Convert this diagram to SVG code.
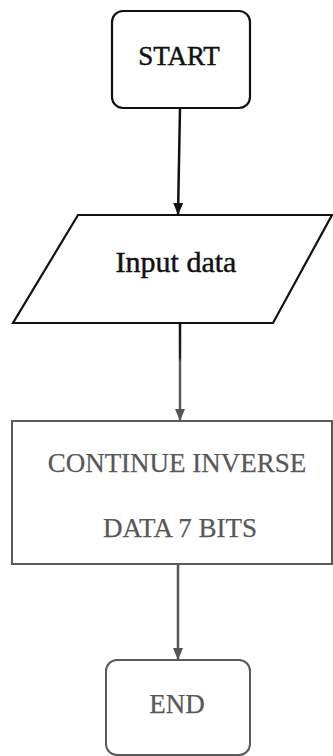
<svg xmlns="http://www.w3.org/2000/svg" width="333" height="756" viewBox="0 0 333 756">
  <style>
    .txt { font-family: "Liberation Serif", "Times New Roman", serif; font-size: 27px; text-anchor: middle; }
    .dark { fill: #111; stroke: #111; stroke-width: 0.45; }
    .grey { fill: #585858; stroke: #585858; stroke-width: 0.25; }
    .big { font-size: 30px; }
    .shape-dark { fill: #fff; stroke: #111; stroke-width: 2.2; }
    .shape-grey { fill: #fff; stroke: #5a5a5a; stroke-width: 2; }
    .conn { fill: none; stroke-width: 2.5; }
  </style>
  <defs>
    <marker id="head-dark" viewBox="0 0 12 10" refX="12" refY="5" markerWidth="12" markerHeight="10" markerUnits="userSpaceOnUse" orient="auto">
      <path d="M0,0 L12,5 L0,10 Z" fill="#111"/>
    </marker>
    <marker id="head-grey" viewBox="0 0 12 10" refX="12" refY="5" markerWidth="12" markerHeight="10" markerUnits="userSpaceOnUse" orient="auto">
      <path d="M0,0 L12,5 L0,10 Z" fill="#555"/>
    </marker>
    <linearGradient id="fade" gradientUnits="userSpaceOnUse" x1="0" y1="323" x2="0" y2="421">
      <stop offset="0" stop-color="#111"/>
      <stop offset="0.35" stop-color="#222"/>
      <stop offset="0.4" stop-color="#5a5a5a"/>
      <stop offset="1" stop-color="#5a5a5a"/>
    </linearGradient>
  </defs>

  <!-- connectors -->
  <g id="connectors">
    <path class="conn" d="M180,108 L178,215" stroke="#111" marker-end="url(#head-dark)"/>
    <path class="conn" d="M180,323 L180,421" stroke="url(#fade)" marker-end="url(#head-grey)"/>
    <path class="conn" d="M178,564 L178,660" stroke="#555" marker-end="url(#head-grey)"/>
  </g>

  <!-- start terminal -->
  <g id="start">
    <rect class="shape-dark" x="112" y="11" width="138" height="97" rx="11"/>
    <text class="txt dark" x="179" y="65">START</text>
  </g>

  <!-- input parallelogram -->
  <g id="input">
    <polygon class="shape-dark" points="78,215 332,215 273,323 13,323" stroke-width="2.5"/>
    <text class="txt big dark" x="176" y="272">Input data</text>
  </g>

  <!-- process box -->
  <g id="process">
    <rect class="shape-grey" x="12" y="421" width="320" height="143"/>
    <text class="txt grey" x="177" y="472">CONTINUE INVERSE</text>
    <text class="txt grey" x="180" y="537">DATA 7 BITS</text>
  </g>

  <!-- end terminal -->
  <g id="end">
    <rect class="shape-grey" x="106" y="660" width="144" height="95" rx="11"/>
    <text class="txt grey" x="177" y="713">END</text>
  </g>
</svg>
